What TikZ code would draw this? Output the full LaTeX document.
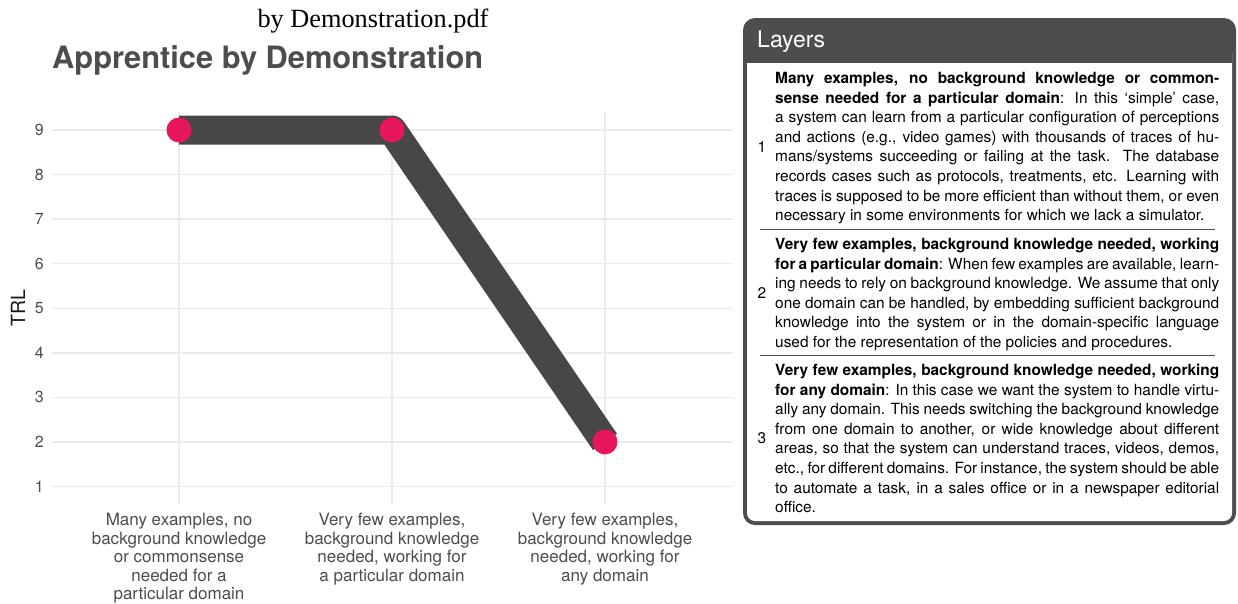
\documentclass[tikz,border=0pt]{standalone}
\usepackage{fontspec}
\setmainfont{TeX Gyre Heros}
\newfontfamily\serifpdf{Liberation Serif}
\definecolor{dotc}{HTML}{E8175D}
\definecolor{linec}{HTML}{474747}
\definecolor{txtg}{HTML}{4D4D4D}
\definecolor{gridc}{HTML}{EBEBEB}
\definecolor{boxg}{HTML}{4D4D4D}
\newcommand\bodyf{\fontsize{15.4}{19.6}\selectfont}
\newcommand\jline[3]{\node[bodyline] (#1) at (775,#2) {\makebox[444pt][s]{#3}};}
\newcommand\nline[3]{\node[bodyline] (#1) at (775,#2) {#3};}
\tikzset{
  gridline/.style={draw=gridc, line width=1.4pt},
  ticklab/.style={anchor=east, inner sep=0pt, text=txtg, font=\fontsize{16}{18}\selectfont},
  xlab/.style={anchor=north, inner sep=0pt, align=center, text=txtg, font=\fontsize{17}{18.5}\selectfont},
  dot/.style={circle, fill=dotc, minimum size=25pt, inner sep=0pt},
  trend/.style={draw=linec, line width=29pt, line join=round, line cap=butt},
  bodyline/.style={anchor=base west, inner sep=0pt, font=\bodyf},
  rownum/.style={anchor=base, inner sep=0pt, font=\bodyf},
  seprule/.style={draw=boxg, line width=1pt},
}
\begin{document}
\begin{tikzpicture}[x=1pt,y=-1pt]
\useasboundingbox (0,0) rectangle (1238,603);
\fill[white] (0,0) rectangle (1238,603);

% titles
\node[anchor=base, inner sep=0pt, font=\serifpdf\fontsize{26.3}{29}\selectfont] (pdfname) at (373,27) {by Demonstration.pdf};
\node[anchor=base west, inner sep=0pt, text=txtg, font=\bfseries\fontsize{30.8}{34}\selectfont] (title) at (52,68) {Apprentice by Demonstration};

% grid
\foreach \v in {1,...,9} {
  \draw[gridline] (52,{130+(9-\v)*44.56}) -- (733,{130+(9-\v)*44.56});
  \node[ticklab] (t\v) at (44,{130+(9-\v)*44.56}) {\v};
}
\foreach \x in {179,392,605} {
  \draw[gridline] (\x,112) -- (\x,504);
}
\node[rotate=90, inner sep=0pt, text=black!90, font=\fontsize{19.5}{22}\selectfont] (trl) at (18,308) {TRL};

% data
\coordinate (p1) at (179,130);
\coordinate (p2) at (392,130);
\coordinate (p3) at (605,441.9);
\draw[trend] (p1) -- (p2) -- (p3);
\node[dot] (d1) at (p1) {};
\node[dot] (d2) at (p2) {};
\node[dot] (d3) at (p3) {};

% x labels
\node[xlab] (x1) at (179,513) {Many examples, no\\background knowledge\\or commonsense\\needed for a\\particular domain};
\node[xlab] (x2) at (392,513) {Very few examples,\\background knowledge\\needed, working for\\a particular domain};
\node[xlab] (x3) at (605,513) {Very few examples,\\background knowledge\\needed, working for\\any domain};

% layers box
\fill[boxg, rounded corners=12pt] (743,18) rectangle (1236,525);
\fill[white, rounded corners=8pt] (747,45) rectangle (1232,521);
\fill[boxg] (747,40) rectangle (1232,63);
\node[anchor=base west, inner sep=0pt, text=white, font=\fontsize{23}{26}\selectfont] (layers) at (757,47.3) {Layers};

% row 1
\node[rownum] (n1) at (762,152) {1};
\jline{a1}{83.5}{\textbf{Many examples, no background knowledge or common-}}
\jline{a2}{103.1}{\textbf{sense needed for a particular domain}: In this `simple' case,}
\jline{a3}{122.7}{a system can learn from a particular configuration of perceptions}
\jline{a4}{142.3}{and actions (e.g., video games) with thousands of traces of hu-}
\jline{a5}{161.9}{mans/systems succeeding or failing at the task.\ \ The database}
\jline{a6}{181.5}{records cases such as protocols, treatments, etc. Learning with}
\jline{a7}{201.1}{traces is supposed to be more efficient than without them, or even}
\nline{a8}{220.7}{necessary in some environments for which we lack a simulator.}
\draw[seprule] (760,229.5) -- (1215,229.5);

% row 2
\node[rownum] (n2) at (762,298) {2};
\jline{b1}{249.5}{\textbf{Very few examples, background knowledge needed, working}}
\jline{b2}{269.1}{\textbf{for a particular domain}: When few examples are available, learn-}
\jline{b3}{288.7}{ing needs to rely on background knowledge. We assume that only}
\jline{b4}{308.3}{one domain can be handled, by embedding sufficient background}
\jline{b5}{327.9}{knowledge into the system or in the domain-specific language}
\nline{b6}{347.5}{used for the representation of the policies and procedures.}
\draw[seprule] (760,355.8) -- (1215,355.8);

% row 3
\node[rownum] (n3) at (762,443) {3};
\jline{c1}{375.5}{\textbf{Very few examples, background knowledge needed, working}}
\jline{c2}{395.1}{\textbf{for any domain}: In this case we want the system to handle virtu-}
\jline{c3}{414.7}{ally any domain. This needs switching the background knowledge}
\jline{c4}{434.3}{from one domain to another, or wide knowledge about different}
\jline{c5}{453.9}{areas, so that the system can understand traces, videos, demos,}
\jline{c6}{473.5}{etc., for different domains. For instance, the system should be able}
\jline{c7}{493.1}{to automate a task, in a sales office or in a newspaper editorial}
\nline{c8}{512.7}{office.}
\end{tikzpicture}
\end{document}
